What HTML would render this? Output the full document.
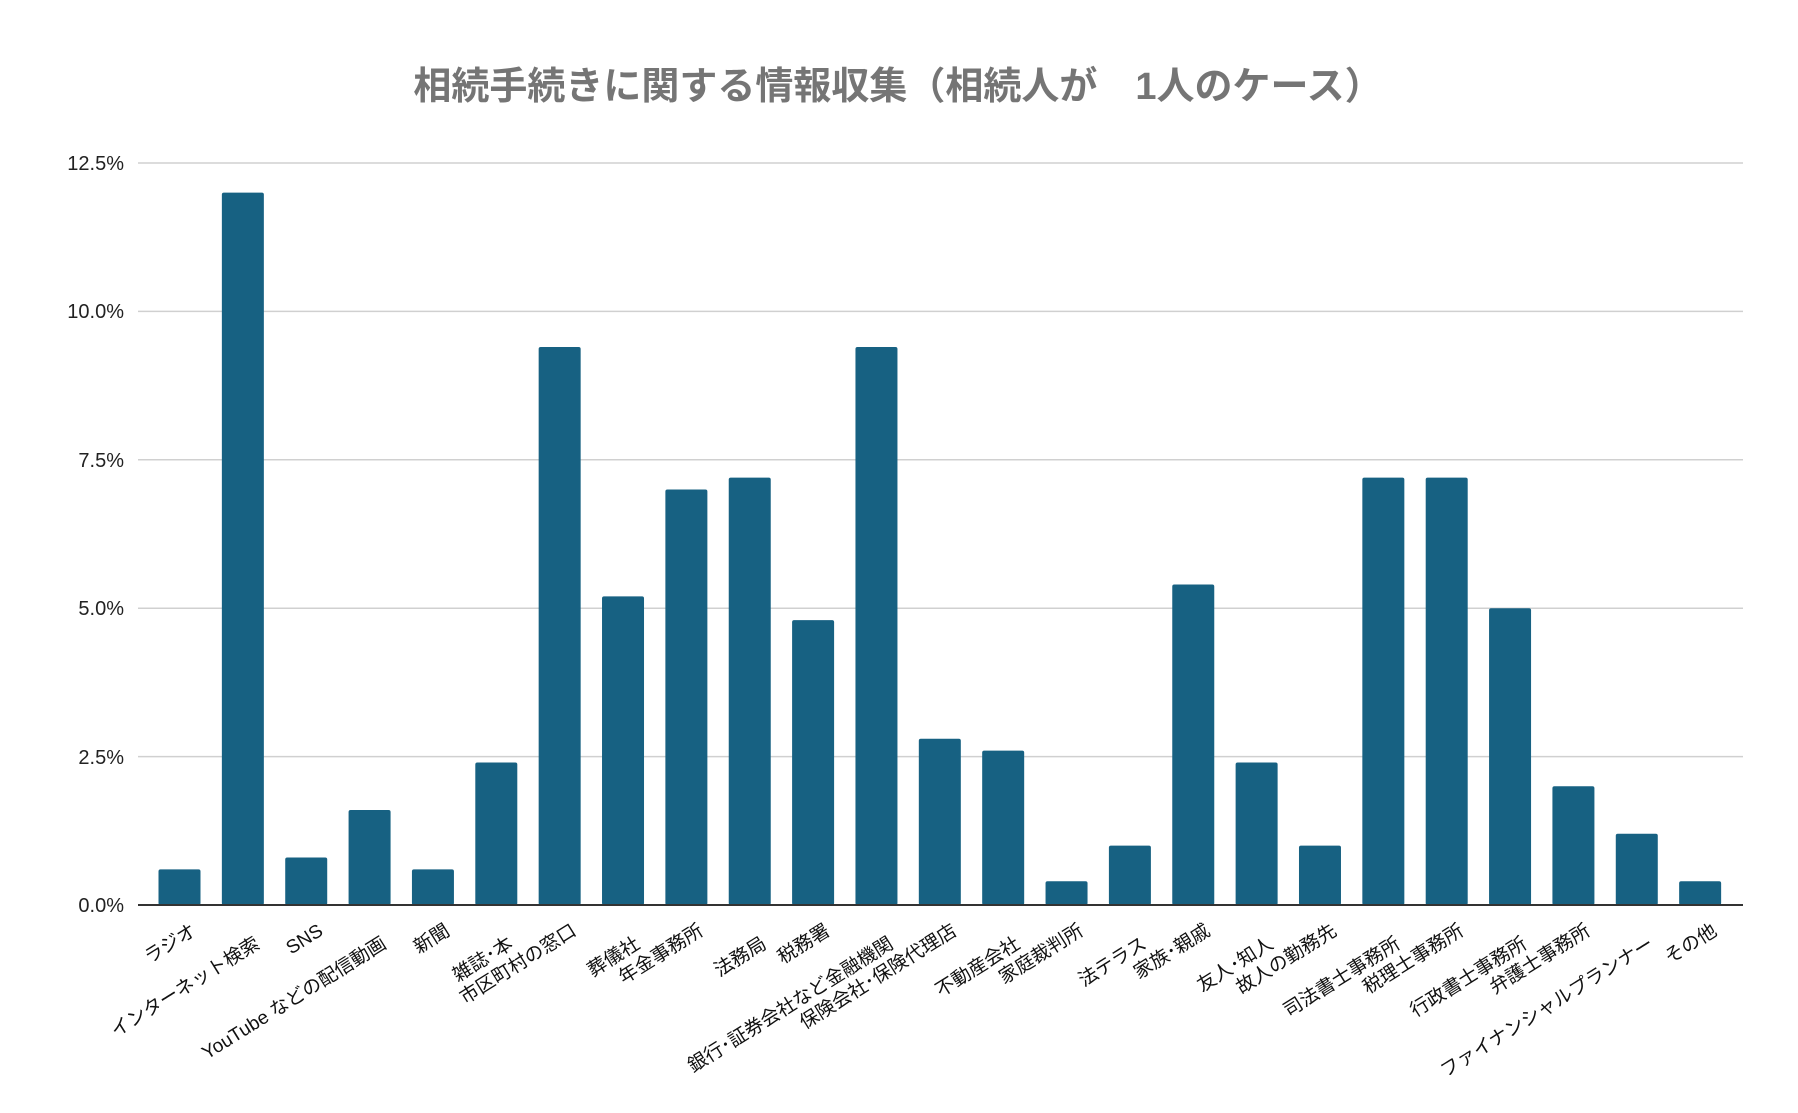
<!DOCTYPE html>
<html><head><meta charset="utf-8"><style>body{margin:0;background:#fff}svg{display:block}</style></head><body>
<svg width="1798" height="1113" xmlns="http://www.w3.org/2000/svg" font-family="'Liberation Sans','Noto Sans CJK JP',sans-serif">
<rect width="1798" height="1113" fill="#fff"/>
<text x="898" y="99" text-anchor="middle" font-size="38" font-weight="bold" fill="#757575">相続手続きに関する情報収集（相続人が　1人のケース）</text>
<g stroke="#d0d0d0" stroke-width="1.5">
<line x1="138" x2="1743" y1="163" y2="163"/>
<line x1="138" x2="1743" y1="311.4" y2="311.4"/>
<line x1="138" x2="1743" y1="459.8" y2="459.8"/>
<line x1="138" x2="1743" y1="608.2" y2="608.2"/>
<line x1="138" x2="1743" y1="756.6" y2="756.6"/>
</g>
<g font-size="20" fill="#222" text-anchor="end">
<text x="124" y="170">12.5%</text>
<text x="124" y="318">10.0%</text>
<text x="124" y="467">7.5%</text>
<text x="124" y="615">5.0%</text>
<text x="124" y="764">2.5%</text>
<text x="124" y="912">0.0%</text>
</g>
<g id="bars" fill="#176182"></g>
<line x1="138" x2="1743" y1="905" y2="905" stroke="#333" stroke-width="2"/>
<g id="labels" font-size="19" fill="#111" text-anchor="end"></g>
<script>
var v=[0.6,12,0.8,1.6,0.6,2.4,9.4,5.2,7.0,7.2,4.8,9.4,2.8,2.6,0.4,1.0,5.4,2.4,1.0,7.2,7.2,5.0,2.0,1.2,0.4];
var n=["ラジオ","インターネット検索","SNS","YouTube などの配信動画","新聞","雑誌･本","市区町村の窓口","葬儀社","年金事務所","法務局","税務署","銀行･証券会社など金融機関","保険会社･保険代理店","不動産会社","家庭裁判所","法テラス","家族･親戚","友人･知人","故人の勤務先","司法書士事務所","税理士事務所","行政書士事務所","弁護士事務所","ファイナンシャルプランナー","その他"];
var b=document.getElementById("bars"),l=document.getElementById("labels"),ns="http://www.w3.org/2000/svg";
for(var i=0;i<25;i++){var cx=179.5+i*63.36,h=v[i]/2.5*148.4;
var r=document.createElementNS(ns,"rect");r.setAttribute("x",cx-21);r.setAttribute("y",905-h);r.setAttribute("width",42);r.setAttribute("height",h);r.setAttribute("rx",2);b.appendChild(r);
var t=document.createElementNS(ns,"text");
var ax=cx+18,ay=i%2==0?934:947;
t.setAttribute("transform","translate("+ax+","+ay+") rotate(-32)");t.textContent=n[i];l.appendChild(t);}
</script>
</svg>
</body></html>
